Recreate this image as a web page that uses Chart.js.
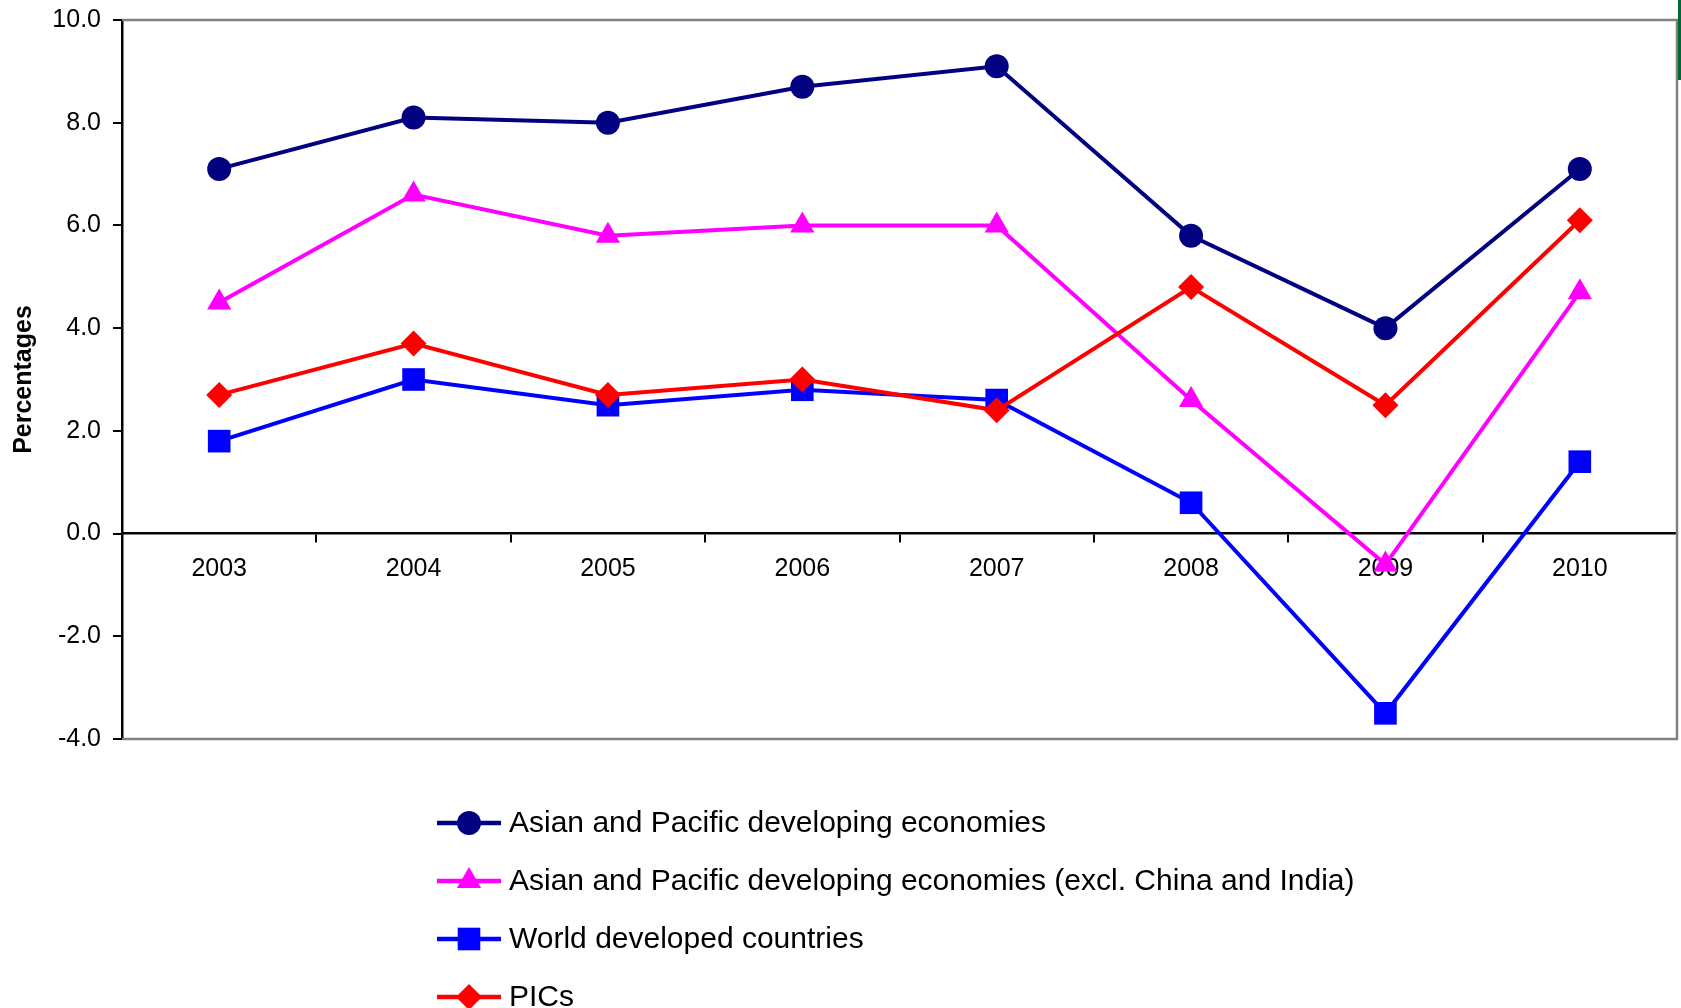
<!DOCTYPE html>
<html>
<head>
<meta charset="utf-8">
<title>Growth rates 2003-2010</title>
<script src="https://cdn.jsdelivr.net/npm/chart.js@4.4.1/dist/chart.umd.min.js"></script>
<style>
  html, body { margin: 0; padding: 0; background: #fff; overflow: hidden; }
  #wrap { width: 1681px; height: 1008px; position: relative; }
  canvas { display: block; }
</style>
</head>
<body>
<div id="wrap"><canvas id="growth-chart"></canvas></div>
<script>
/* Data */
var YEARS = ['2003', '2004', '2005', '2006', '2007', '2008', '2009', '2010'];
var ASIA_PACIFIC = [7.1, 8.1, 8.0, 8.7, 9.1, 5.8, 4.0, 7.1];
var ASIA_PACIFIC_EXCL = [4.5, 6.6, 5.8, 6.0, 6.0, 2.6, -0.6, 4.7];
var WORLD_DEVELOPED = [1.8, 3.0, 2.5, 2.8, 2.6, 0.6, -3.5, 1.4];
var PICS = [2.7, 3.7, 2.7, 3.0, 2.4, 4.8, 2.5, 6.1];
var SERIES_NAMES = [
  'Asian and Pacific developing economies',
  'Asian and Pacific developing economies (excl. China and India)',
  'World developed countries',
  'PICs'
];
var Y_MIN = -4, Y_MAX = 10, Y_STEP = 2;

var FONT = '"Liberation Sans", Arial, sans-serif';
var GREY = '#808080';

function lineSet(label, data, color, style, radius, order) {
  return {
    label: label,
    data: data,
    borderColor: color,
    backgroundColor: color,
    borderWidth: 4,
    pointStyle: style,
    pointRadius: radius,
    pointHoverRadius: radius,
    pointBorderWidth: 0,
    tension: 0,
    order: order
  };
}

/* keep label overflow from pushing the plot area around */
function noPadding(scale) {
  scale.paddingTop = 0;
  scale.paddingBottom = 0;
  scale.paddingLeft = 0;
  scale.paddingRight = 0;
}

/* grey frame on top, right and bottom of the plot area */
var frame = {
  id: 'frame',
  beforeDatasetsDraw: function(chart) {
    var a = chart.chartArea, c = chart.ctx;
    c.save();
    c.strokeStyle = GREY;
    c.lineWidth = 2.5;
    c.beginPath();
    c.moveTo(a.left, a.top);
    c.lineTo(a.right, a.top);
    c.lineTo(a.right, a.bottom);
    c.lineTo(a.left, a.bottom);
    c.stroke();
    // green sliver cut off at the top right of the original picture
    c.fillStyle = '#006633';
    c.fillRect(chart.width - 3, 0, 3, 80);
    c.restore();
  }
};

/* legend below the plot: short line with its marker, then the name */
var sideLegend = {
  id: 'sideLegend',
  afterDraw: function(chart) {
    var c = chart.ctx;
    var x0 = 437, x1 = 501, tx = 509, y = 823, gap = 58;
    c.save();
    c.font = '30px ' + FONT;
    c.textBaseline = 'middle';
    for (var i = 0; i < chart.data.datasets.length; i++) {
      var ds = chart.data.datasets[i];
      var yy = y + i * gap;
      c.strokeStyle = ds.borderColor;
      c.lineWidth = 4.5;
      c.beginPath();
      c.moveTo(x0, yy);
      c.lineTo(x1, yy);
      c.stroke();
      c.fillStyle = ds.backgroundColor;
      Chart.helpers.drawPoint(c, { pointStyle: ds.pointStyle, radius: ds.pointRadius, borderWidth: 0 }, (x0 + x1) / 2, yy);
      c.fillStyle = '#000';
      c.fillText(ds.label, tx, yy + 1);
    }
    c.restore();
  }
};

new Chart(document.getElementById('growth-chart').getContext('2d'), {
  type: 'line',
  data: {
    labels: YEARS,
    datasets: [
      lineSet(SERIES_NAMES[0], ASIA_PACIFIC, '#000080', 'circle', 12, 4),
      lineSet(SERIES_NAMES[1], ASIA_PACIFIC_EXCL, '#FF00FF', 'triangle', 14, 3),
      lineSet(SERIES_NAMES[2], WORLD_DEVELOPED, '#0000FF', 'rect', 16, 2),
      lineSet(SERIES_NAMES[3], PICS, '#FF0000', 'rectRot', 13, 1)
    ]
  },
  options: {
    responsive: true,
    maintainAspectRatio: false,
    animation: false,
    layout: { autoPadding: false, padding: { top: 20, right: 4, bottom: 269, left: 0 } },
    scales: {
      x: {
        position: { y: 0 },
        offset: true,
        afterFit: noPadding,
        grid: { offset: true, drawOnChartArea: false, color: '#000', lineWidth: 2, tickLength: 8 },
        border: { color: '#000', width: 2.5 },
        ticks: { color: '#000', font: { family: FONT, size: 25 }, padding: 13, maxRotation: 0 }
      },
      y: {
        min: Y_MIN,
        max: Y_MAX,
        afterFit: function(scale) {
          noPadding(scale);
          scale.width = 122;
        },
        grid: { drawOnChartArea: false, color: '#000', lineWidth: 2, tickLength: 9 },
        border: { color: '#000', width: 2.5 },
        ticks: {
          stepSize: Y_STEP,
          color: '#000',
          padding: 12,
          font: { family: FONT, size: 25 },
          callback: function(v) { return v.toFixed(1); }
        },
        title: {
          display: true,
          text: 'Percentages',
          color: '#000',
          font: { family: FONT, size: 25, weight: 'bold' },
          padding: { top: 9, bottom: 0 }
        }
      }
    },
    plugins: {
      legend: { display: false },
      tooltip: { enabled: false }
    }
  },
  plugins: [frame, sideLegend]
});
</script>
</body>
</html>
